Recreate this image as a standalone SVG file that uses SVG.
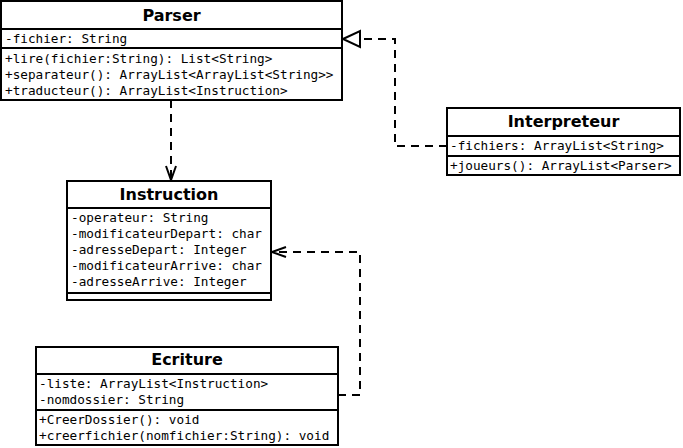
<svg xmlns="http://www.w3.org/2000/svg" width="683" height="448" viewBox="0 0 683 448">
<style>
.box{fill:#fff;stroke:#000;stroke-width:2}
.sep{stroke:#000;stroke-width:2}
.t{font-family:"DejaVu Sans",sans-serif;font-weight:bold;font-size:16px;text-anchor:middle}
.m{font-family:"DejaVu Sans Mono",monospace;font-size:12.7px}
.dash{fill:none;stroke:#000;stroke-width:2;stroke-dasharray:8 6}
.head{fill:none;stroke:#000;stroke-width:2}
</style>
<rect width="683" height="448" fill="#fff"/>
<g id="edges">
<path class="dash" d="M447,146 H395 V39 H360"/>
<polygon class="head" points="343,39 360,31 360,47" fill="#fff"/>
<path class="dash" d="M171,100 V179"/>
<polyline class="head" points="166,166 171,180 176,166"/>
<path class="dash" d="M338,395 H360 V252 H273"/>
<polyline class="head" points="286,247 272,252 286,257"/>
</g>
<g id="Parser">
<rect class="box" x="1" y="1" width="341" height="99"/>
<line class="sep" x1="1" y1="29" x2="342" y2="29"/>
<line class="sep" x1="1" y1="48" x2="342" y2="48"/>
<text class="t" x="171.5" y="21">Parser</text>
<text class="m" x="5" y="43">-fichier: String</text>
<text class="m" x="5" y="63">+lire(fichier:String): List&lt;String&gt;</text>
<text class="m" x="5" y="79">+separateur(): ArrayList&lt;ArrayList&lt;String&gt;&gt;</text>
<text class="m" x="5" y="95">+traducteur(): ArrayList&lt;Instruction&gt;</text>
</g>
<g id="Interpreteur">
<rect class="box" x="447" y="108" width="233" height="67"/>
<line class="sep" x1="447" y1="136" x2="680" y2="136"/>
<line class="sep" x1="447" y1="156" x2="680" y2="156"/>
<text class="t" x="563.5" y="127">Interpreteur</text>
<text class="m" x="450" y="150">-fichiers: ArrayList&lt;String&gt;</text>
<text class="m" x="450" y="170">+joueurs(): ArrayList&lt;Parser&gt;</text>
</g>
<g id="Instruction">
<rect class="box" x="67" y="181" width="204" height="119"/>
<line class="sep" x1="67" y1="208" x2="271" y2="208"/>
<line class="sep" x1="67" y1="293" x2="271" y2="293"/>
<text class="t" x="169" y="200">Instruction</text>
<text class="m" x="71" y="222">-operateur: String</text>
<text class="m" x="71" y="238">-modificateurDepart: char</text>
<text class="m" x="71" y="254">-adresseDepart: Integer</text>
<text class="m" x="71" y="270">-modificateurArrive: char</text>
<text class="m" x="71" y="286">-adresseArrive: Integer</text>
</g>
<g id="Ecriture">
<rect class="box" x="36" y="347" width="302" height="98"/>
<line class="sep" x1="36" y1="374" x2="338" y2="374"/>
<line class="sep" x1="36" y1="410" x2="338" y2="410"/>
<text class="t" x="187" y="365">Ecriture</text>
<text class="m" x="39" y="388">-liste: ArrayList&lt;Instruction&gt;</text>
<text class="m" x="39" y="404">-nomdossier: String</text>
<text class="m" x="39" y="424">+CreerDossier(): void</text>
<text class="m" x="39" y="440">+creerfichier(nomfichier:String): void</text>
</g>
</svg>
